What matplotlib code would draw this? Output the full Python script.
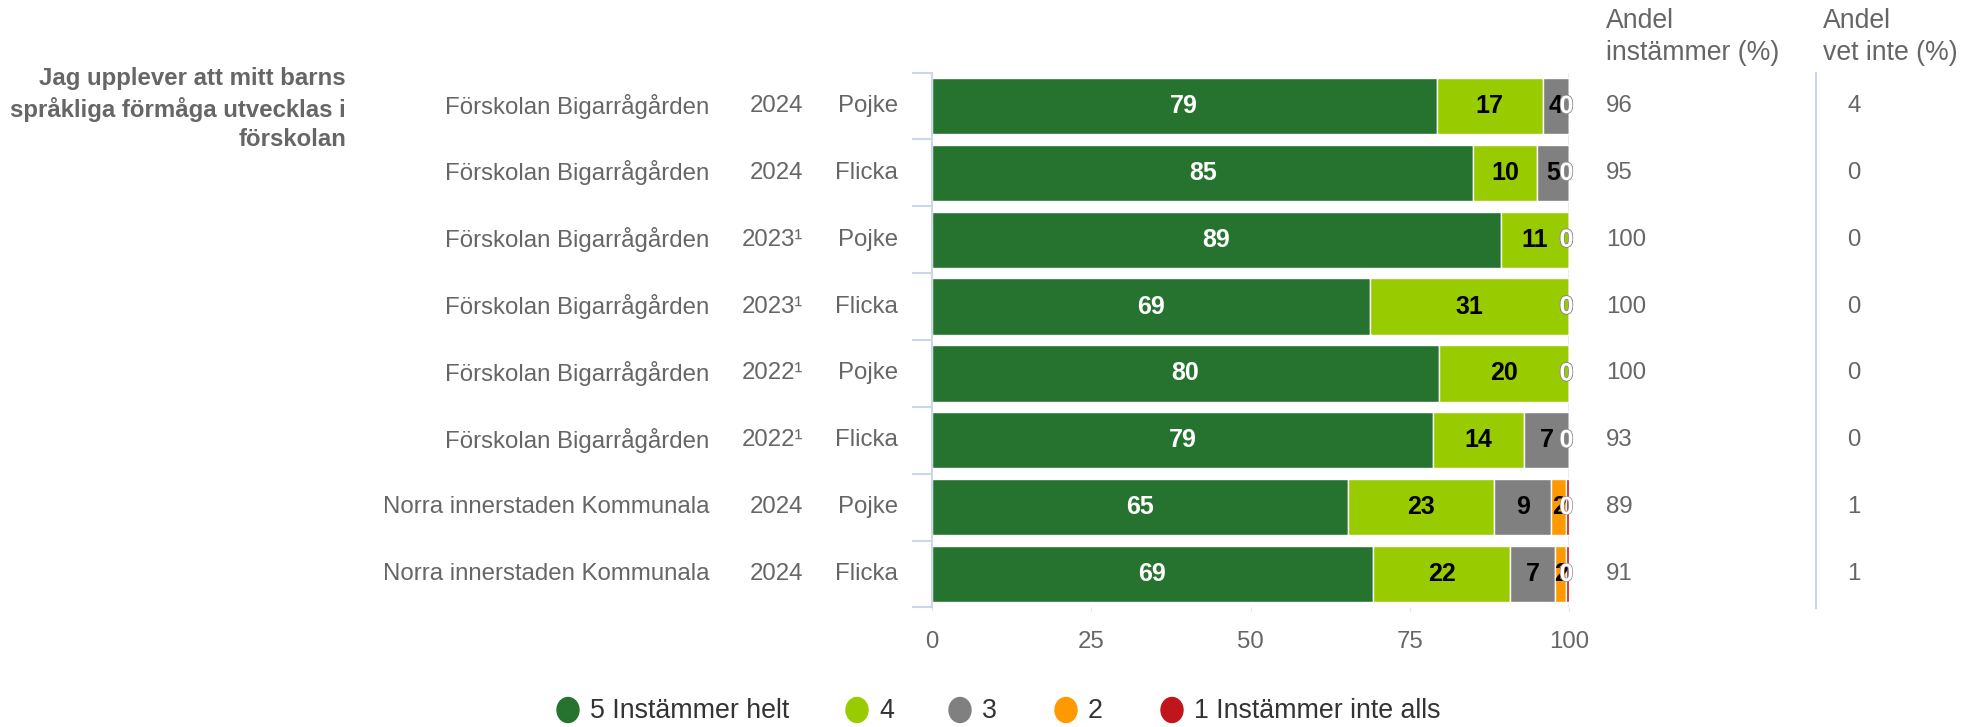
import matplotlib
matplotlib.use('Agg')
import matplotlib.pyplot as plt
from matplotlib.transforms import blended_transform_factory
from matplotlib.patches import Ellipse
import matplotlib.patheffects as pe
import numpy as np

plt.rcParams['font.family'] = ['Liberation Sans', 'DejaVu Sans']

# ---------------- data ----------------
schools = ['Förskolan Bigarrågården'] * 6 + ['Norra innerstaden Kommunala'] * 2
years = ['2024', '2024', '2023¹', '2023¹', '2022¹', '2022¹', '2024', '2024']
genders = ['Pojke', 'Flicka'] * 4
s5 = [79.2, 85.0, 89.3, 68.8, 79.6, 78.6, 65.3, 69.2]
s4 = [16.7, 10.0, 10.7, 31.2, 20.4, 14.3, 23.0, 21.6]
s3 = [4.1, 5.0, 0.0, 0.0, 0.0, 7.1, 8.9, 7.0]
s2 = [0.0, 0.0, 0.0, 0.0, 0.0, 0.0, 2.4, 1.8]
s1 = [0.0, 0.0, 0.0, 0.0, 0.0, 0.0, 0.4, 0.4]
andel_instammer = [96, 95, 100, 100, 100, 93, 89, 91]
andel_vet_inte = [4, 0, 0, 0, 0, 0, 1, 1]
series_names = ['5 Instämmer helt', '4', '3', '2', '1 Instämmer inte alls']
colors = ['#267330', '#99cc00', '#808080', '#ff9900', '#c0161b']
question = 'Jag upplever att mitt barns\nspråkliga förmåga utvecklas i\nförskolan'
xticks = [0, 25, 50, 75, 100]

# ---------------- figure ----------------
W, H = 1967, 727
fig = plt.figure(figsize=(W / 100, H / 100), dpi=100)
fig.patch.set_facecolor('white')

x0, x1 = 932, 1569
ytop, ybot = 72.6, 607.4
ax = fig.add_axes([x0 / W, 1 - ybot / H, (x1 - x0) / W, (ybot - ytop) / H])
ax.set_facecolor('none')

FS = 17.3
GRAY = '#666666'

series = [s5, s4, s3, s2, s1]
n = len(genders)
y = np.arange(n)
left = np.zeros(n)
ax.axvline(100, color='#e6e6e6', lw=1.2, zorder=0.5)
for si, vals in enumerate(series):
    vals = np.array(vals)
    ax.barh(y, vals, left=left, height=0.84, color=colors[si],
            edgecolor='white', linewidth=1, zorder=2)
    for i in range(n):
        v = vals[i]
        c = left[i] + v / 2
        lab = str(int(round(v)))
        if round(v) == 0:
            ax.text(min(c, 99.6), i, lab, ha='center', va='center', fontsize=18,
                    fontweight='bold', color='white', zorder=4,
                    path_effects=[pe.withStroke(linewidth=1.0, foreground='#8a8a8a')])
        else:
            ax.text(c, i, lab, ha='center', va='center', fontsize=18,
                    fontweight='bold', color='white' if si == 0 else '#000000', zorder=3)
    left = left + vals

ax.set_xlim(0, 100)
ax.set_ylim(n - 0.5, -0.5)
ax.set_xticks(xticks)
ax.set_xticklabels([str(t) for t in xticks])
ax.tick_params(axis='x', length=3, color='#e6e6e6', labelcolor=GRAY,
               labelsize=FS, pad=14)
ax.set_yticks(np.arange(-0.5, n, 1))
ax.set_yticklabels([])
ax.tick_params(axis='y', length=14.4, width=1.5, color='#ccd6eb')
for s in ['top', 'right', 'bottom']:
    ax.spines[s].set_visible(False)
ax.spines['left'].set_color('#ccd6eb')
ax.spines['left'].set_linewidth(1.5)

# ---------------- overlay in pixel coordinates ----------------
ov = fig.add_axes([0, 0, 1, 1])
ov.set_xlim(0, W)
ov.set_ylim(H, 0)
ov.axis('off')
ov.patch.set_visible(False)

tr = blended_transform_factory(ov.transData, ax.transData)
for i in range(n):
    ov.text(709, i, schools[i], transform=tr, ha='right', va='center',
            fontsize=FS, color=GRAY)
    ov.text(803, i, years[i], transform=tr, ha='right', va='center',
            fontsize=FS, color=GRAY)
    ov.text(898, i, genders[i], transform=tr, ha='right', va='center',
            fontsize=FS, color=GRAY)
    ov.text(1606, i, str(andel_instammer[i]), transform=tr, ha='left',
            va='center', fontsize=FS, color=GRAY)
    ov.text(1854, i, str(andel_vet_inte[i]), transform=tr, ha='center',
            va='center', fontsize=FS, color=GRAY)

HFS = 19.2
ov.text(1606, 21, 'Andel', ha='left', va='center', fontsize=HFS, color=GRAY)
ov.text(1606, 53, 'instämmer (%)', ha='left', va='center', fontsize=HFS, color=GRAY)
ov.text(1823, 21, 'Andel', ha='left', va='center', fontsize=HFS, color=GRAY)
ov.text(1823, 53, 'vet inte (%)', ha='left', va='center', fontsize=HFS, color=GRAY)
ov.plot([1816, 1816], [73, 608], color='#ccd6eb', lw=1.5)

ov.text(346, 109, question, ha='right', va='center', fontsize=FS,
        fontweight='bold', color=GRAY, linespacing=1.32, multialignment='right')

# legend
leg_circ = [568, 857, 960, 1066, 1172]
for k, name in enumerate(series_names):
    ov.add_patch(Ellipse((leg_circ[k], 710), 22, 25, color=colors[k]))
    ov.text(leg_circ[k] + 22, 711, name, ha='left', va='center',
            fontsize=19.3, color='#333333')

fig.savefig('out.png', dpi=100, facecolor='white')
